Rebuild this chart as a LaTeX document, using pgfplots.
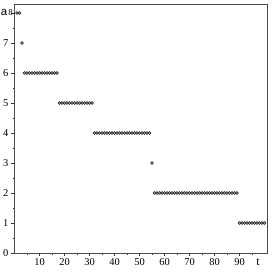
\documentclass[border=0pt]{standalone}
\usepackage{pgfplots}
\pgfplotsset{compat=1.18}
\usepackage{fontspec}
\setmainfont{Liberation Serif}
\newfontfamily\sansf{Liberation Sans}
\pgfplotstableread{
t a
1 8
2 8
3 7
4 6
5 6
6 6
7 6
8 6
9 6
10 6
11 6
12 6
13 6
14 6
15 6
16 6
17 6
18 5
19 5
20 5
21 5
22 5
23 5
24 5
25 5
26 5
27 5
28 5
29 5
30 5
31 5
32 4
33 4
34 4
35 4
36 4
37 4
38 4
39 4
40 4
41 4
42 4
43 4
44 4
45 4
46 4
47 4
48 4
49 4
50 4
51 4
52 4
53 4
54 4
55 3
56 2
57 2
58 2
59 2
60 2
61 2
62 2
63 2
64 2
65 2
66 2
67 2
68 2
69 2
70 2
71 2
72 2
73 2
74 2
75 2
76 2
77 2
78 2
79 2
80 2
81 2
82 2
83 2
84 2
85 2
86 2
87 2
88 2
89 2
90 1
91 1
92 1
93 1
94 1
95 1
96 1
97 1
98 1
99 1
100 1
}\data
\begin{document}
\begin{tikzpicture}
\path[use as bounding box] (-14.5bp,-20bp) rectangle (260.5bp,253bp);
\begin{axis}[name=ax, at={(0,0)}, anchor=south west, scale only axis, width=252.5bp, height=249bp,
  xmin=0, xmax=101, ymin=0, ymax=8.3,
  xtick={10,20,30,40,50,60,70,80,90},
  xticklabels={10,20,30,40,50,60,70,80,90},
  ytick={0,1,2,3,4,5,6,7},
  yticklabels={0,1,2,3,4,5,6,7},
  extra y ticks={8}, extra y tick labels={8},
  extra y tick style={yticklabel style={xshift=4.5bp, font=\rmfamily\fontsize{9}{9}\selectfont}},
  minor xtick={5,15,...,95}, minor ytick={0.5,1.5,...,7.5},
  tick align=outside, xtick pos=bottom, ytick pos=left,
  major tick length=3bp, minor tick length=1.8bp,
  tick style={black!80, line width=0.4pt},
  tick label style={font=\rmfamily\fontsize{10.5}{11}\selectfont},
  yticklabel style={xshift=0.5bp},
  xticklabel style={yshift=0.5bp},
  axis line style={black!70, line width=0.5pt},
  xlabel={t}, ylabel={\sansf a},
  xlabel style={at={(axis description cs:0.964,0)}, anchor=north, yshift=-2bp, font=\rmfamily\fontsize{12}{12}\selectfont},
  ylabel style={at={(axis description cs:0,0.966)}, rotate=-90, anchor=east, inner sep=0pt, xshift=-7bp, font=\fontsize{11.5}{12}\selectfont},
  clip=false]
\addplot[only marks, mark=o, mark size=1.35bp, black!85, mark options={line width=0.65pt}] table[x=t,y=a] {\data};
\end{axis}
\end{tikzpicture}
\end{document}
